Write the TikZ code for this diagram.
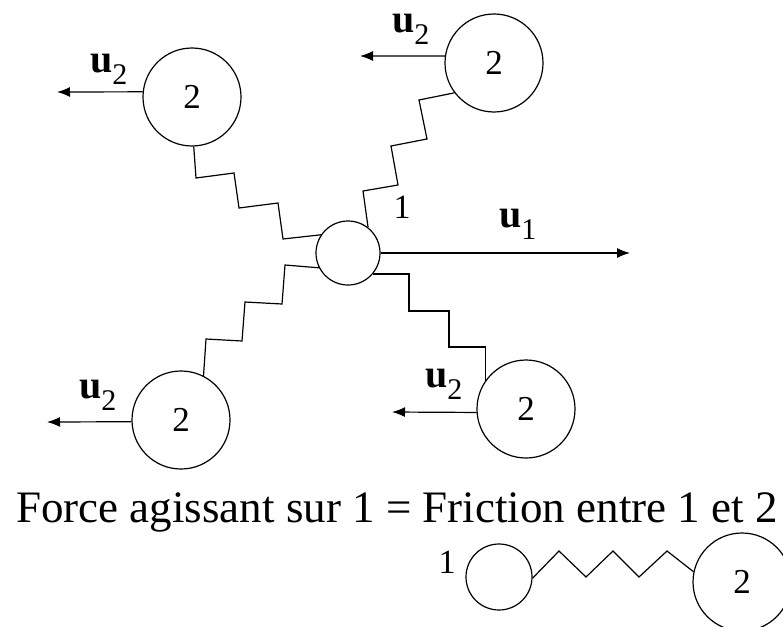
\documentclass[tikz,border=0pt]{standalone}
\usepackage{fontspec}
\setmainfont{Liberation Serif}
\usetikzlibrary{arrows.meta}

\newcommand{\ulab}[1]{{\fontsize{40}{40}\selectfont\bfseries u}\raisebox{-12pt}{\fontsize{30}{30}\selectfont #1}}

\begin{document}
\begin{tikzpicture}[x=1pt,y=-1pt,
  big/.style={circle,draw,line width=1.2pt,minimum size=98pt,inner sep=0pt,font=\fontsize{35}{35}\selectfont},
  small/.style={circle,draw,line width=1.2pt,minimum size=64pt,inner sep=0pt},
  spring/.style={line width=1.2pt,line join=miter},
  arrow/.style={-{Latex[length=13pt,width=10pt]},line width=1.2pt},
  lab/.style={anchor=base west,inner sep=0pt},
  num/.style={anchor=base,inner sep=0pt,font=\fontsize{34}{34}\selectfont}
]
\useasboundingbox (0,0) rectangle (783,626);

% Particles
\node[small] (c)  at (348,253) {};
\node[big]   (tl) at (192,97)  {2};
\node[big]   (tr) at (494,63)  {2};
\node[big]   (bl) at (181,420) {2};
\node[big]   (br) at (526,409) {2};

% Arrow ends
\coordinate (tipTL) at (57,92);
\coordinate (tipTR) at (360,56);
\coordinate (tipBL) at (47,422);
\coordinate (tipBR) at (392,412);
\coordinate (tipC)  at (630,253);

% Springs
\draw[spring] (tl.-88) -- (196,178) -- (234,173) -- (239,208) -- (278,203) -- (283,239) -- (c.146);
\draw[spring] (tr.217) -- (419,100) -- (427,139) -- (391,146) -- (398,185) -- (363,191) -- (c.52);
\draw[spring] (c.207) -- (285,265) -- (282,304) -- (245,302) -- (242,341) -- (206,339) -- (bl.63);
\draw[spring] (c.-40) -| ++(36,37) -| ++(40,36) -| (br.145);

% Velocities
\draw[arrow] (tl.174) -- (tipTL);
\draw[arrow] (tr.172) -- (tipTR);
\draw[arrow] (bl.182) -- (tipBL);
\draw[arrow] (br.184) -- (tipBR);
\draw[arrow] (c.east) -- (tipC);

% Labels
\node[lab] (uTL) at (90,72)  {\ulab{2}};
\node[lab] (uTR) at (392,33) {\ulab{2}};
\node[lab] (uBL) at (79,398) {\ulab{2}};
\node[lab] (uBR) at (425,387) {\ulab{2}};
\node[lab] (uC)  at (499,227) {\ulab{1}};
\node[num] (one) at (402,218) {1};

% Caption
\node[anchor=base,inner sep=0pt,font=\fontsize{45}{45}\selectfont] (cap) at (397,522)
  {Force agissant sur 1 = Friction entre 1 et 2};

% Small sketch
\node[small,minimum size=66pt] (s1) at (499,577) {};
\node[big] (s2) at (742,582) {2};
\node[num] (oneb) at (447,573) {1};
\draw[spring] (s1.-2) -- (559,551) -- (586,577) -- (613,551) -- (639,577) -- (667,551) -- (s2.168);
\end{tikzpicture}
\end{document}
